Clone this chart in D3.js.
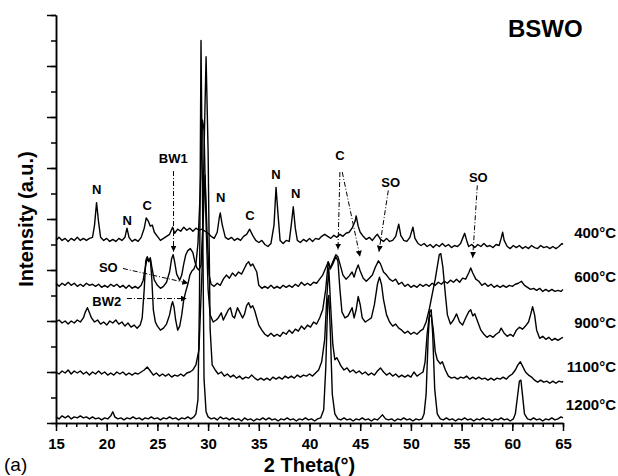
<!DOCTYPE html>
<html lang="en">
<head>
<meta charset="UTF-8"/>
<title>BSWO XRD</title>
<script src="https://d3js.org/d3.v7.min.js"></script>
<style>
  body { margin: 0; background: #fff; }
  svg { display: block; }
  text { font-family: "Liberation Sans", Arial, sans-serif; fill: #000; }
</style>
</head>
<body>
<script>
// temperatures and vertical stacking offsets (a.u.)
var temps = ["400°C", "600°C", "900°C", "1100°C", "1200°C"];
var offsets = [180, 135, 99, 49, 5];
var labelLevels = [186, 143, 98, 55, 18];

// [2theta, intensity above offset]
var scan400 = [[15,-1],[15.3,2],[15.6,-1],[15.9,1],[16.2,-2],[16.5,1],[16.8,-1],[17.1,2],[17.4,-1],[17.7,1],[18,-1],[18.3,1],[18.6,2],[18.8,14],[19,36],[19.2,17],[19.4,2],[19.7,-1],[20,1],[20.3,-2],[20.6,0],[20.9,-2],[21.2,1],[21.5,-1],[21.8,2],[22,11],[22.2,2],[22.5,-2],[22.8,0],[23.1,-2],[23.4,2],[23.7,11],[23.9,21],[24.1,18],[24.3,13],[24.5,14],[24.7,7],[25,3],[25.3,-1],[25.6,1],[25.9,3],[26.2,5],[26.5,12],[26.7,6],[27,10],[27.3,8],[27.6,12],[27.9,9],[28.2,11],[28.5,8],[28.8,11],[29.1,9],[29.4,10],[29.7,8],[30,6],[30.3,3],[30.6,1],[30.9,7],[31.1,21],[31.2,26],[31.4,14],[31.7,2],[32,0],[32.3,2],[32.6,-1],[32.9,1],[33.2,-1],[33.5,3],[33.8,5],[34.1,10],[34.4,4],[34.7,-1],[35,-3],[35.3,-1],[35.6,-5],[35.9,-7],[36.2,-4],[36.5,14],[36.7,51],[36.9,24],[37.1,-1],[37.4,-4],[37.7,-1],[38,-2],[38.2,14],[38.4,32],[38.6,11],[38.8,-1],[39.1,-3],[39.4,0],[39.7,-2],[40,1],[40.3,-2],[40.6,1],[40.9,0],[41.2,3],[41.5,5],[41.8,3],[42.1,1],[42.4,4],[42.7,2],[43,5],[43.3,3],[43.6,6],[43.9,7],[44.2,11],[44.5,18],[44.6,23],[44.8,13],[45,7],[45.3,3],[45.6,0],[45.9,2],[46.2,-1],[46.5,3],[46.7,5],[47,0],[47.3,-2],[47.6,1],[47.9,-2],[48.2,-1],[48.5,3],[48.8,15],[49,4],[49.3,-1],[49.6,-2],[49.9,2],[50.2,12],[50.4,1],[50.7,-4],[51,-6],[51.3,-4],[51.6,-7],[51.9,-5],[52.2,-8],[52.5,-5],[52.8,-7],[53.1,-4],[53.4,-7],[53.7,-5],[54,-8],[54.3,-6],[54.6,-7],[54.9,-4],[55.1,1],[55.3,6],[55.5,-1],[55.7,-7],[56,-5],[56.3,-8],[56.6,-5],[56.9,-7],[57.2,-4],[57.5,-7],[57.8,-6],[58.1,-8],[58.4,-5],[58.7,-6],[58.9,1],[59.05,7],[59.2,-1],[59.5,-7],[59.8,-9],[60.1,-6],[60.4,-8],[60.7,-6],[61,-9],[61.3,-7],[61.6,-9],[61.9,-6],[62.2,-8],[62.5,-9],[62.8,-6],[63.1,-8],[63.4,-7],[63.7,-9],[64,-7],[64.3,-9],[64.6,-7],[64.9,-4],[65,-5]];

var scan600 = [[15,2],[15.3,-1],[15.6,2],[15.9,0],[16.2,3],[16.5,0],[16.8,2],[17.1,-1],[17.4,1],[17.7,-1],[18,2],[18.3,0],[18.6,1],[18.9,-1],[19.2,1],[19.5,-2],[19.8,0],[20.1,-2],[20.4,1],[20.7,-1],[21,1],[21.3,-2],[21.6,0],[21.9,-3],[22.2,0],[22.5,-3],[22.8,-1],[23.1,-3],[23.4,0],[23.6,5],[23.8,17],[24,27],[24.15,23],[24.3,27],[24.5,15],[24.7,5],[25,0],[25.3,-3],[25.6,-1],[25.9,3],[26.2,13],[26.4,26],[26.55,30],[26.7,23],[26.9,11],[27.2,5],[27.4,10],[27.6,21],[27.8,30],[28,34],[28.25,36],[28.5,32],[28.7,23],[28.9,17],[29.1,15],[29.3,20],[29.5,60],[29.7,108],[29.9,50],[30.1,10],[30.3,1],[30.6,-1],[30.9,2],[31.2,0],[31.5,6],[31.8,10],[32.1,7],[32.4,12],[32.7,9],[33,13],[33.3,11],[33.6,17],[33.8,21],[34,23],[34.2,19],[34.4,21],[34.6,17],[34.8,13],[35,0],[35.3,-3],[35.6,-1],[35.9,-3],[36.2,0],[36.5,-3],[36.8,-1],[37.1,-3],[37.4,0],[37.7,-2],[38,0],[38.3,-2],[38.6,1],[38.9,-1],[39.2,3],[39.5,0],[39.8,2],[40.1,0],[40.4,3],[40.7,2],[41,6],[41.3,10],[41.6,17],[41.85,23],[42.05,17],[42.3,23],[42.6,30],[42.8,28],[43,21],[43.3,10],[43.6,6],[43.9,9],[44.2,13],[44.4,8],[44.6,15],[44.8,20],[45,14],[45.3,7],[45.6,4],[45.9,7],[46.2,10],[46.5,18],[46.8,24],[47,21],[47.3,13],[47.6,10],[47.9,6],[48.2,4],[48.5,6],[48.8,1],[49.1,3],[49.4,-1],[49.7,1],[50,-2],[50.3,0],[50.6,-2],[50.9,1],[51.2,-1],[51.5,1],[51.8,-1],[52.1,2],[52.4,0],[52.7,3],[53,1],[53.3,4],[53.6,2],[53.9,5],[54.2,3],[54.5,6],[54.8,3],[55.1,7],[55.4,6],[55.7,12],[55.9,17],[56.1,12],[56.4,6],[56.7,4],[57,0],[57.3,2],[57.6,-1],[57.9,1],[58.2,-2],[58.5,0],[58.8,-2],[59.1,0],[59.4,-2],[59.7,0],[60,-1],[60.3,1],[60.6,2],[60.9,4],[61.2,0],[61.5,-2],[61.8,-4],[62.1,-3],[62.4,-5],[62.7,-3],[63,-6],[63.3,-4],[63.6,-6],[63.9,-4],[64.2,-6],[64.5,-5],[64.8,-6],[65,-4]];

var scan900 = [[15,0],[15.3,2],[15.6,-1],[15.9,1],[16.2,-2],[16.5,1],[16.8,-1],[17.1,2],[17.4,0],[17.7,4],[17.9,10],[18.1,14],[18.3,9],[18.5,4],[18.8,0],[19.1,2],[19.4,-2],[19.7,0],[20,-3],[20.3,1],[20.6,-1],[20.9,2],[21.2,-2],[21.5,0],[21.8,-4],[22.1,-1],[22.4,-5],[22.7,-3],[23,-6],[23.3,-3],[23.5,4],[23.7,32],[23.85,60],[24,64],[24.15,60],[24.3,62],[24.45,42],[24.6,12],[24.8,0],[25,-4],[25.3,-8],[25.6,-6],[25.9,-2],[26.2,7],[26.4,17],[26.5,20],[26.65,14],[26.8,2],[27,-8],[27.2,-4],[27.4,7],[27.6,22],[27.8,30],[28,37],[28.2,46],[28.4,50],[28.6,52],[28.8,57],[29,77],[29.2,122],[29.45,198],[29.6,188],[29.8,97],[30,32],[30.2,7],[30.5,0],[30.8,2],[31,4],[31.3,9],[31.5,2],[31.8,8],[32,12],[32.2,14],[32.4,6],[32.6,4],[32.9,14],[33.1,10],[33.4,4],[33.6,8],[33.8,16],[34,19],[34.2,14],[34.4,16],[34.6,11],[34.8,4],[35,-3],[35.3,-8],[35.6,-12],[35.9,-14],[36.2,-11],[36.5,-14],[36.8,-12],[37.1,-14],[37.4,-10],[37.7,-12],[38,-8],[38.3,-11],[38.6,-7],[38.9,-9],[39.2,-4],[39.5,-7],[39.8,-3],[40.1,-5],[40.4,0],[40.7,-2],[41,4],[41.3,12],[41.6,32],[41.85,59],[42.05,52],[42.3,57],[42.6,64],[42.8,60],[43,32],[43.2,10],[43.5,4],[43.8,6],[44,10],[44.2,14],[44.4,4],[44.6,12],[44.8,25],[45,17],[45.2,4],[45.5,0],[45.8,2],[46.1,4],[46.4,17],[46.7,37],[46.9,44],[47.1,37],[47.3,22],[47.6,7],[47.9,0],[48.2,-4],[48.5,-2],[48.8,-6],[49.1,-8],[49.4,-11],[49.7,-9],[50,-12],[50.3,-10],[50.6,-12],[50.9,-9],[51.2,-7],[51.5,0],[51.8,12],[52.1,27],[52.4,42],[52.6,54],[52.8,66],[52.95,67],[53.15,54],[53.4,27],[53.6,7],[53.9,-2],[54.2,2],[54.5,8],[54.8,0],[55.1,-3],[55.4,4],[55.7,10],[55.9,12],[56.1,6],[56.3,8],[56.6,0],[56.9,-8],[57.2,-12],[57.5,-15],[57.8,-13],[58.1,-15],[58.4,-12],[58.7,-10],[58.9,-6],[59.2,-11],[59.5,-14],[59.8,-12],[60.1,-14],[60.4,-8],[60.7,-5],[61,-7],[61.3,-4],[61.6,0],[61.8,7],[62,15],[62.2,7],[62.4,-8],[62.7,-16],[63,-14],[63.3,-17],[63.6,-15],[63.9,-18],[64.2,-16],[64.5,-18],[64.8,-16],[65,-15]];

var scan1100 = [[15,1],[15.3,-1],[15.6,2],[15.9,0],[16.2,3],[16.5,-1],[16.8,2],[17.1,0],[17.4,2],[17.7,-1],[18,1],[18.3,-2],[18.6,1],[18.9,-1],[19.2,2],[19.5,-1],[19.8,1],[20.1,-2],[20.4,0],[20.7,-2],[21,1],[21.3,-1],[21.6,1],[21.9,-2],[22.2,0],[22.5,-2],[22.8,0],[23.1,-1],[23.4,1],[23.7,3],[24,6],[24.3,2],[24.6,-2],[24.9,0],[25.2,-3],[25.5,-1],[25.8,-3],[26.1,-1],[26.4,-4],[26.7,-2],[27,-3],[27.3,-1],[27.6,-3],[27.9,0],[28.2,1],[28.5,3],[28.8,8],[29.1,23],[29.4,100],[29.6,218],[29.8,310],[30,218],[30.2,43],[30.4,8],[30.7,3],[31,-1],[31.3,1],[31.6,-3],[31.9,-1],[32.2,-4],[32.5,-2],[32.8,-5],[33.1,-3],[33.4,-6],[33.7,-4],[34,-5],[34.3,-2],[34.6,-5],[34.9,-7],[35.2,-5],[35.5,-7],[35.8,-5],[36.1,-7],[36.4,-4],[36.7,-6],[37,-4],[37.3,-6],[37.6,-3],[37.9,-5],[38.2,-3],[38.5,-5],[38.8,-2],[39.1,-4],[39.4,-2],[39.7,-3],[40,-1],[40.3,-3],[40.6,0],[40.9,3],[41.2,11],[41.5,33],[41.7,73],[41.9,103],[42.1,63],[42.3,28],[42.5,13],[42.7,15],[42.9,11],[43.1,7],[43.4,3],[43.7,5],[44,1],[44.3,3],[44.6,0],[44.9,2],[45.2,-1],[45.5,1],[45.8,-2],[46.1,0],[46.4,-2],[46.7,2],[47,5],[47.3,1],[47.6,-2],[47.9,0],[48.2,-3],[48.5,-1],[48.8,-4],[49.1,-2],[49.4,-4],[49.7,-2],[50,-4],[50.3,1],[50.6,-3],[50.9,-1],[51.2,1],[51.4,11],[51.6,38],[51.8,55],[52,57],[52.2,43],[52.4,21],[52.6,13],[52.9,9],[53.1,11],[53.4,3],[53.7,-3],[54,-5],[54.3,-4],[54.6,-6],[54.9,-4],[55.2,-5],[55.5,-3],[55.8,-6],[56.1,-4],[56.4,-6],[56.7,-4],[57,-6],[57.3,-5],[57.6,-7],[57.9,-5],[58.2,-7],[58.5,-5],[58.8,-6],[59.1,-4],[59.4,-6],[59.7,-3],[60,-1],[60.3,3],[60.55,8],[60.8,11],[61,7],[61.3,1],[61.6,-2],[61.9,-4],[62.2,-7],[62.5,-9],[62.8,-7],[63.1,-9],[63.4,-8],[63.7,-10],[64,-8],[64.3,-10],[64.6,-8],[64.9,-9],[65,-8]];

var scan1200 = [[15,1],[15.3,-1],[15.6,2],[15.9,0],[16.2,2],[16.5,-1],[16.8,1],[17.1,0],[17.4,2],[17.7,0],[18,1],[18.3,-1],[18.6,1],[18.9,-1],[19.2,0],[19.5,-2],[19.8,0],[20.1,-1],[20.4,2],[20.6,6],[20.8,1],[21.1,-1],[21.4,0],[21.7,-2],[22,0],[22.3,-1],[22.6,1],[22.9,-1],[23.2,0],[23.5,-2],[23.8,0],[24.1,-1],[24.4,1],[24.7,-1],[25,0],[25.3,-2],[25.6,0],[25.9,-1],[26.2,1],[26.5,-1],[26.8,0],[27.1,-2],[27.4,0],[27.7,-1],[28,1],[28.3,-1],[28.6,1],[28.8,4],[29,18],[29.15,116],[29.3,370],[29.45,214],[29.6,38],[29.8,6],[30,1],[30.3,-1],[30.6,0],[30.9,-2],[31.2,1],[31.5,-1],[31.8,0],[32.1,-2],[32.4,0],[32.7,-2],[33,-1],[33.3,-3],[33.6,0],[33.9,-2],[34.2,-1],[34.5,-3],[34.8,-1],[35.1,-2],[35.4,0],[35.7,-2],[36,0],[36.3,-2],[36.6,-1],[36.9,-3],[37.2,-1],[37.5,-2],[37.8,0],[38.1,-2],[38.4,-1],[38.7,-3],[39,-1],[39.3,-2],[39.6,0],[39.9,-2],[40.2,-1],[40.5,-3],[40.8,-1],[41.1,0],[41.4,8],[41.6,48],[41.8,116],[41.9,120],[42.05,86],[42.25,23],[42.5,4],[42.8,-1],[43.1,-2],[43.4,0],[43.7,-2],[44,-1],[44.3,-3],[44.6,-1],[44.9,-2],[45.2,0],[45.5,-2],[45.8,-1],[46.1,-3],[46.4,-1],[46.7,-2],[47,1],[47.2,3],[47.5,-1],[47.8,-2],[48.1,-1],[48.4,-3],[48.7,-1],[49,-2],[49.3,0],[49.6,-2],[49.9,-1],[50.2,-3],[50.5,-1],[50.8,-2],[51.1,-1],[51.3,4],[51.5,23],[51.7,78],[51.85,104],[52,106],[52.15,82],[52.35,28],[52.6,4],[52.9,-1],[53.2,-2],[53.5,0],[53.8,-2],[54.1,-1],[54.4,-3],[54.7,-1],[55,-2],[55.3,0],[55.6,-2],[55.9,-1],[56.2,-3],[56.5,-1],[56.8,-2],[57.1,0],[57.4,-2],[57.7,-1],[58,-3],[58.3,-1],[58.6,-2],[58.9,0],[59.2,-2],[59.5,-1],[59.8,-3],[60.1,-1],[60.3,4],[60.5,20],[60.7,36],[60.85,37],[61,23],[61.2,4],[61.5,-1],[61.8,-2],[62.1,0],[62.4,-2],[62.7,-1],[63,-3],[63.3,-1],[63.6,-2],[63.9,0],[64.2,-2],[64.5,-1],[64.8,1],[65,0]];

var scans = [scan400, scan600, scan900, scan1100, scan1200];

// phase marks: label, [2theta, intensity] of text centre
var phaseLabels = [
  ["N", 19.01, 229], ["N", 22.03, 199], ["C", 24.0, 213], ["BW1", 26.57, 259],
  ["N", 31.24, 221], ["C", 34.13, 203], ["N", 36.7, 244], ["N", 38.64, 225],
  ["C", 43.0, 262], ["SO", 48.0, 236], ["SO", 56.65, 241],
  ["SO", 20.16, 152], ["BW2", 20.0, 119]
];
// leader lines: [from 2theta, from I, to 2theta, to I]
var leaders = [
  [26.59, 247, 26.59, 168],
  [43.0, 246, 42.81, 170],
  [43.23, 246, 44.98, 163],
  [47.77, 228, 46.85, 168],
  [56.55, 233, 56.09, 162],
  [21.6, 151.5, 28.05, 137],
  [22.0, 122, 27.89, 122]
];

var w = 618, h = 476;
var margin = {left: 56, right: 55, top: 15, bottom: 53};

var x = d3.scaleLinear().domain([15, 65]).range([margin.left, w - margin.right]);
var y = d3.scaleLinear().domain([0, 400]).range([h - margin.bottom, margin.top]);

var svg = d3.select("body").append("svg")
  .attr("width", w)
  .attr("height", h);

svg.append("defs").append("marker")
  .attr("id", "arr")
  .attr("viewBox", "0 0 6 6")
  .attr("refX", 6).attr("refY", 3)
  .attr("markerWidth", 6).attr("markerHeight", 6)
  .attr("markerUnits", "userSpaceOnUse")
  .attr("orient", "auto")
  .append("path")
  .attr("d", "M0,0 L6,3 L0,6 Z")
  .attr("fill", "#000");

// axes
var xMinor = d3.axisBottom(x).tickValues(d3.range(15, 66, 1)).tickSize(4).tickSizeOuter(0).tickFormat("");
var xMajor = d3.axisBottom(x).tickValues(d3.range(15, 66, 5)).tickSize(8).tickSizeOuter(0).tickPadding(7);
var yMinor = d3.axisLeft(y).tickValues(d3.range(0, 401, 25)).tickSize(5).tickSizeOuter(0).tickFormat("");
var yMajor = d3.axisLeft(y).tickValues(d3.range(0, 401, 50)).tickSize(9).tickSizeOuter(0).tickFormat("");

[xMinor, xMajor].forEach(function(ax){
  svg.append("g")
    .attr("transform", "translate(0," + (h - margin.bottom) + ")")
    .call(ax);
});
[yMinor, yMajor].forEach(function(ax){
  svg.append("g")
    .attr("transform", "translate(" + margin.left + ",0)")
    .call(ax);
});
svg.selectAll(".domain, .tick line")
  .attr("stroke", "#000")
  .attr("stroke-width", 1.5);
svg.selectAll(".tick text")
  .attr("font-size", 15)
  .attr("font-weight", "bold")
  .attr("font-family", "Liberation Sans, Arial, sans-serif")
  .attr("fill", "#000");

// patterns
var line = d3.line();
scans.forEach(function(scan, i){
  line.x(function(d){ return x(d[0]); })
      .y(function(d){ return y(offsets[i] + d[1]); });
  svg.append("path")
    .datum(scan)
    .attr("d", line)
    .attr("fill", "none")
    .attr("stroke", "#000")
    .attr("stroke-width", 1.4)
    .attr("stroke-linejoin", "round");
});

// temperature labels
svg.selectAll(".temp")
  .data(temps)
  .enter()
  .append("text")
  .attr("class", "temp")
  .attr("x", w - 2)
  .attr("y", function(d, i){ return y(labelLevels[i]) + 5; })
  .attr("text-anchor", "end")
  .attr("font-size", 15)
  .attr("font-weight", "bold")
  .text(function(d){ return d; });

// phase marks
svg.selectAll(".lead")
  .data(leaders)
  .enter()
  .append("line")
  .attr("x1", function(d){ return x(d[0]); })
  .attr("y1", function(d){ return y(d[1]); })
  .attr("x2", function(d){ return x(d[2]); })
  .attr("y2", function(d){ return y(d[3]); })
  .attr("stroke", "#000")
  .attr("stroke-width", 1)
  .attr("stroke-dasharray", "5,2,1,2")
  .attr("marker-end", "url(#arr)");

svg.selectAll(".phase")
  .data(phaseLabels)
  .enter()
  .append("text")
  .attr("x", function(d){ return x(d[1]); })
  .attr("y", function(d){ return y(d[2]) + 4.5; })
  .attr("text-anchor", "middle")
  .attr("font-size", 13)
  .attr("font-weight", "bold")
  .text(function(d){ return d[0]; });

// titles
svg.append("text")
  .attr("x", 508).attr("y", 37)
  .attr("font-size", 24)
  .attr("font-weight", "bold")
  .text("BSWO");

svg.append("text")
  .attr("x", (margin.left + w - margin.right) / 2)
  .attr("y", 472)
  .attr("text-anchor", "middle")
  .attr("font-size", 20)
  .attr("font-weight", "bold")
  .text("2 Theta(°)");

svg.append("text")
  .attr("transform", "translate(33,219) rotate(-90)")
  .attr("text-anchor", "middle")
  .attr("font-size", 20)
  .attr("font-weight", "bold")
  .text("Intensity (a.u.)");

svg.append("text")
  .attr("x", 4).attr("y", 471)
  .attr("font-family", "Liberation Serif, Times New Roman, serif")
  .attr("font-size", 19)
  .text("(a)");
</script>
</body>
</html>
